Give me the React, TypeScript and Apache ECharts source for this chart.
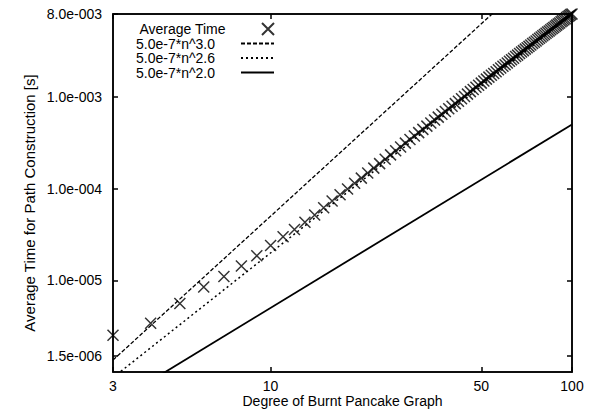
import React, { useEffect, useRef } from "react";
import * as echarts from "echarts";

// Degree n of the burnt pancake graph (x) and measured average time (y, seconds)
const degrees: number[] = [
  3, 4, 5, 6, 7, 8, 9, 10, 11, 12, 13, 14, 15, 16, 17, 18, 19, 20,
  21, 22, 23, 24, 25, 26, 27, 28, 29, 30, 31, 32, 33, 34, 35, 36, 37, 38, 39, 40,
  41, 42, 43, 44, 45, 46, 47, 48, 49, 50, 51, 52, 53, 54, 55, 56, 57, 58, 59, 60,
  61, 62, 63, 64, 65, 66, 67, 68, 69, 70, 71, 72, 73, 74, 75, 76, 77, 78, 79, 80,
  81, 82, 83, 84, 85, 86, 87, 88, 89, 90, 91, 92, 93, 94, 95, 96, 97, 98, 99, 100,
];
const averageTime: number[] = [
  2.52e-6, 3.4e-6, 5.58e-6, 8.44e-6, 1.1e-5, 1.43e-5, 1.85e-5, 2.39e-5, 2.98e-5, 3.58e-5,
  4.29e-5, 5.16e-5, 6.17e-5, 7.3e-5, 8.54e-5, 9.91e-5, 1.14e-4, 1.3e-4,
  1.48e-4, 1.67e-4, 1.87e-4, 2.09e-4, 2.33e-4, 2.58e-4, 2.84e-4, 3.13e-4, 3.42e-4, 3.74e-4,
  4.07e-4, 4.42e-4, 4.79e-4, 5.18e-4, 5.59e-4, 6.01e-4, 6.45e-4, 6.92e-4, 7.4e-4, 7.9e-4,
  8.43e-4, 8.97e-4, 9.54e-4, 1.01e-3, 1.07e-3, 1.14e-3, 1.2e-3, 1.27e-3, 1.34e-3, 1.41e-3,
  1.49e-3, 1.56e-3, 1.64e-3, 1.72e-3, 1.8e-3, 1.88e-3, 1.97e-3, 2.06e-3, 2.15e-3, 2.24e-3,
  2.34e-3, 2.44e-3, 2.54e-3, 2.64e-3, 2.75e-3, 2.85e-3, 2.97e-3, 3.08e-3, 3.19e-3, 3.31e-3,
  3.43e-3, 3.55e-3, 3.68e-3, 3.81e-3, 3.94e-3, 4.07e-3, 4.21e-3, 4.35e-3, 4.49e-3, 4.63e-3,
  4.78e-3, 4.93e-3, 5.08e-3, 5.23e-3, 5.39e-3, 5.55e-3, 5.71e-3, 5.88e-3, 6.05e-3, 6.22e-3,
  6.39e-3, 6.57e-3, 6.75e-3, 6.93e-3, 7.11e-3, 7.31e-3, 7.5e-3, 7.68e-3, 7.88e-3, 8.0e-3,
];

// Reference lines, endpoints (straight in log-log)
const lineN: number[] = [3, 100];
const cubicValues: number[] = [1.35e-6, 5.0e-2];
const pow26Values: number[] = [8.7e-7, 7.9e-3];
const squareValues: number[] = [4.5e-7, 5.0e-4];

const seriesNames: string[] = [
  "Average Time",
  "5.0e-7*n^3.0",
  "5.0e-7*n^2.6",
  "5.0e-7*n^2.0",
];

const xTicks: number[] = [3, 10, 50, 100];
const xTickLabels: string[] = ["3", "10", "50", "100"];
const yTicks: number[] = [1.5e-6, 1e-5, 1e-4, 1e-3, 8e-3];
const yTickLabels: string[] = ["1.5e-006", "1.0e-005", "1.0e-004", "1.0e-003", "8.0e-003"];

const FONT = "Liberation Sans, Arial, Helvetica, sans-serif";

function nearestLabel(v: number, ticks: number[], labels: string[]): string {
  let best = 0;
  let bestD = Infinity;
  for (let i = 0; i < ticks.length; i++) {
    const d = Math.abs(Math.log10(v) - Math.log10(ticks[i]));
    if (d < bestD) {
      bestD = d;
      best = i;
    }
  }
  return labels[best];
}

export default function App() {
  const ref = useRef<HTMLDivElement>(null);

  useEffect(() => {
    if (!ref.current) return;
    const chart = echarts.init(ref.current, undefined, { renderer: "svg" });

    const axisLineStyle = { color: "#000", width: 1.5 };
    const tickCommon = {
      show: true,
      inside: true,
      length: 5,
      lineStyle: { color: "#000", width: 1.5 },
    };

    const scatterData = degrees.map((n, i) => [n, averageTime[i]]);
    const mk = (vals: number[]) => lineN.map((n, i) => [n, vals[i]]);

    const legendBase = {
      orient: "horizontal" as const,
      align: "right" as const,
      right: 320,
      padding: 0,
      itemWidth: 33,
      itemHeight: 12,
      textStyle: {
        color: "#000",
        fontSize: 14,
        lineHeight: 14,
        fontFamily: FONT,
        padding: [0, 21, 0, 0],
      },
      selectedMode: false,
    };
    const legendTops = [22, 36.5, 51, 65.5];

    chart.setOption({
      animation: false,
      backgroundColor: "#fff",
      grid: {
        left: 113,
        right: 23,
        top: 14,
        bottom: 46,
        show: true,
        borderColor: "#000",
        borderWidth: 1.5,
        backgroundColor: "transparent",
      },
      legend: seriesNames.map((name, i) => ({
        ...legendBase,
        top: legendTops[i],
        data: [name],
      })),
      xAxis: [
        {
          type: "log",
          logBase: 10,
          min: 3,
          max: 100,
          position: "bottom",
          axisLine: { show: true, lineStyle: axisLineStyle },
          axisTick: { ...tickCommon, customValues: xTicks },
          minorTick: { show: false },
          splitLine: { show: false },
          axisLabel: {
            customValues: xTicks,
            formatter: (v: number) => nearestLabel(v, xTicks, xTickLabels),
            color: "#000",
            fontSize: 14,
            lineHeight: 14,
            fontFamily: FONT,
            margin: 7,
          },
          name: "Degree of Burnt Pancake Graph",
          nameLocation: "middle",
          nameGap: 22,
          nameMoveOverlap: false,
          nameTextStyle: {
            color: "#000",
            fontSize: 14,
            lineHeight: 14,
            fontFamily: FONT,
            verticalAlign: "top",
          },
        },
        {
          type: "log",
          logBase: 10,
          min: 3,
          max: 100,
          position: "top",
          axisLine: { show: true, lineStyle: axisLineStyle },
          axisTick: { ...tickCommon, customValues: xTicks },
          minorTick: { show: false },
          splitLine: { show: false },
          axisLabel: { show: false },
        },
      ],
      yAxis: [
        {
          type: "log",
          logBase: 10,
          min: 1e-6,
          max: 8e-3,
          position: "left",
          axisLine: { show: true, lineStyle: axisLineStyle },
          axisTick: { ...tickCommon, customValues: yTicks },
          minorTick: { show: false },
          splitLine: { show: false },
          axisLabel: {
            customValues: yTicks,
            formatter: (v: number) => nearestLabel(v, yTicks, yTickLabels),
            color: "#000",
            fontSize: 14,
            fontFamily: FONT,
            margin: 11,
          },
          name: "Average Time for Path Construction [s]",
          nameLocation: "middle",
          nameGap: 76,
          nameMoveOverlap: false,
          nameTextStyle: {
            color: "#000",
            fontSize: 15,
            fontFamily: FONT,
            padding: [0, 20, 0, 0],
          },
        },
        {
          type: "log",
          logBase: 10,
          min: 1e-6,
          max: 8e-3,
          position: "right",
          axisLine: { show: true, lineStyle: axisLineStyle },
          axisTick: { ...tickCommon, customValues: yTicks },
          minorTick: { show: false },
          splitLine: { show: false },
          axisLabel: { show: false },
        },
      ],
      series: [
        {
          name: seriesNames[0],
          type: "scatter",
          data: scatterData,
          symbol: "path://M0,0L10,10M10,0L0,10",
          symbolSize: 11,
          clip: false,
          itemStyle: { color: "rgba(0,0,0,0)", borderColor: "#000", borderWidth: 1.5 },
          z: 5,
        },
        {
          name: seriesNames[1],
          type: "line",
          data: mk(cubicValues),
          symbol: "none",
          showSymbol: false,
          clip: true,
          itemStyle: { color: "rgba(0,0,0,0)", borderWidth: 0 },
          lineStyle: { color: "#000", width: 1.3, type: [4, 2] },
        },
        {
          name: seriesNames[2],
          type: "line",
          data: mk(pow26Values),
          symbol: "none",
          showSymbol: false,
          clip: true,
          itemStyle: { color: "rgba(0,0,0,0)", borderWidth: 0 },
          lineStyle: { color: "#000", width: 1.5, type: [2, 3] },
        },
        {
          name: seriesNames[3],
          type: "line",
          data: mk(squareValues),
          symbol: "none",
          showSymbol: false,
          clip: true,
          itemStyle: { color: "rgba(0,0,0,0)", borderWidth: 0 },
          lineStyle: { color: "#000", width: 1.8, type: "solid" },
        },
      ],
    });

    return () => chart.dispose();
  }, []);

  return (
    <div
      ref={ref}
      style={{ position: "fixed", left: 0, top: 0, width: 595, height: 418 }}
    />
  );
}
